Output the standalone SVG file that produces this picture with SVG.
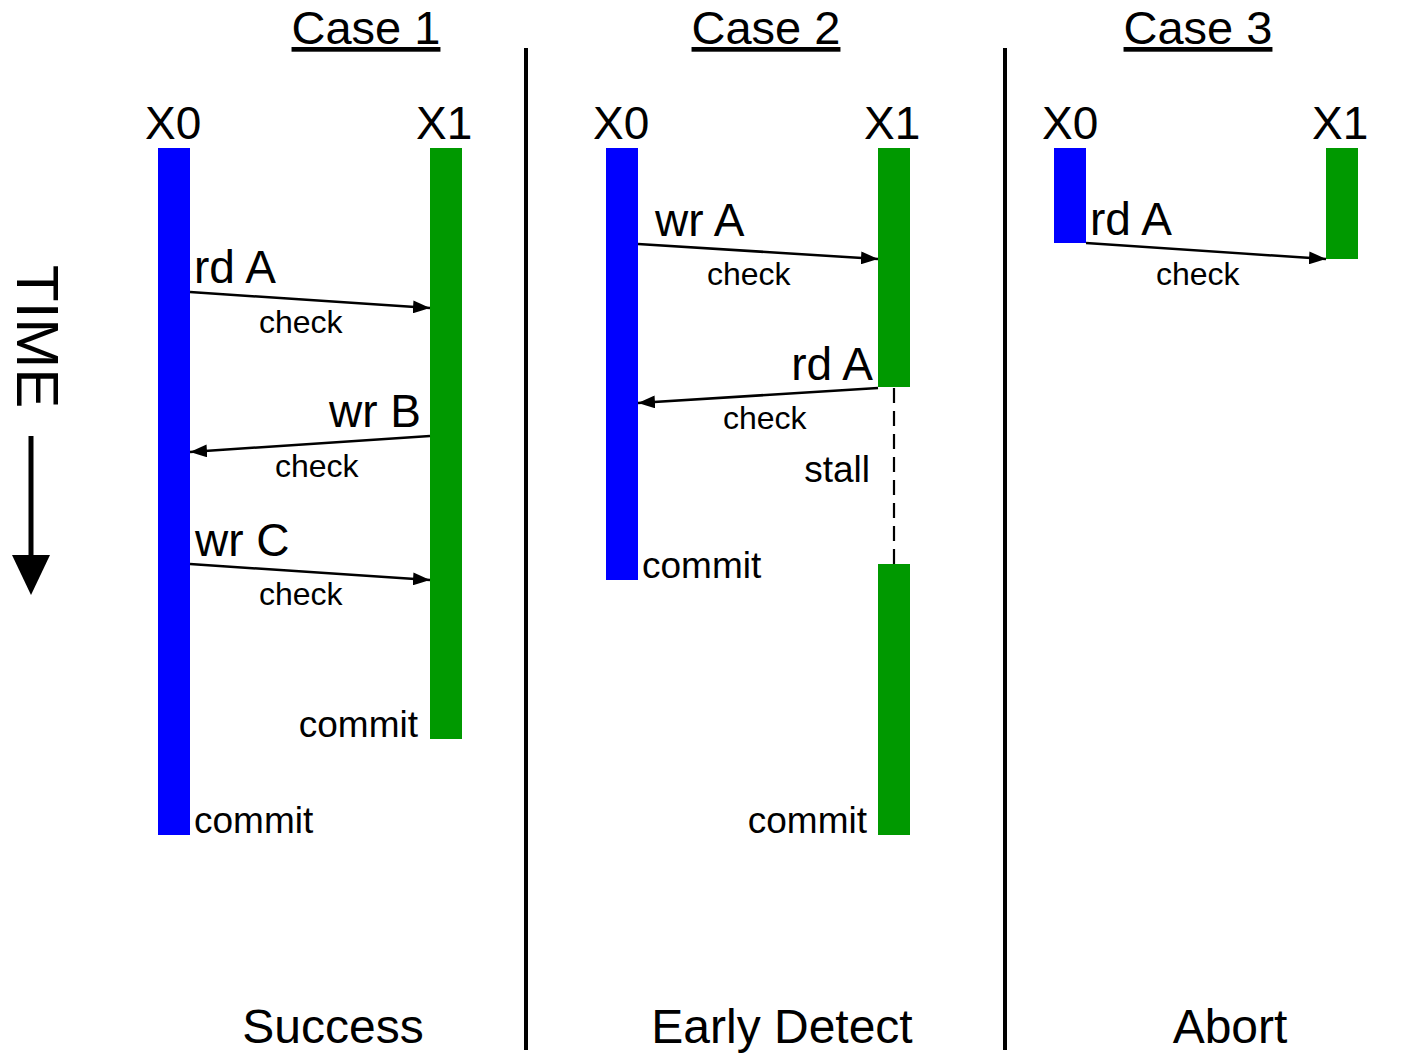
<svg xmlns="http://www.w3.org/2000/svg" width="1422" height="1054" viewBox="0 0 1422 1054">
<defs>
<style>
text{font-family:"Liberation Sans",Arial,sans-serif;fill:#000}
.title{font-size:47px;text-decoration:underline}
.lbl{font-size:46px}
.chk{font-size:32px}
.cm{font-size:37px}
.res{font-size:48px}
.x0{fill:#0000ff}
.x1{fill:#009900}
.conn{stroke:#000;stroke-width:2.5;fill:none;marker-end:url(#ah)}
.sep{stroke:#000;stroke-width:4}
</style>
<marker id="ah" markerUnits="userSpaceOnUse" markerWidth="17" markerHeight="13" refX="17" refY="6.5" orient="auto">
<path d="M0,0 L17,6.5 L0,13 Z" fill="#000"/>
</marker>
</defs>
<rect width="1422" height="1054" fill="#fff"/>

<g id="time-axis">
<text transform="translate(17,265) rotate(90)" style="font-size:60px">TIME</text>
<line x1="31" y1="436" x2="31" y2="560" stroke="#000" stroke-width="5"/>
<polygon points="12,555 50,555 31,595" fill="#000"/>
</g>

<g id="separators">
<line class="sep" x1="526" y1="48" x2="526" y2="1050"/>
<line class="sep" x1="1005" y1="48" x2="1005" y2="1050"/>
</g>

<g id="titles">
<text class="title" x="366" y="44" text-anchor="middle">Case 1</text>
<text class="title" x="766" y="44" text-anchor="middle">Case 2</text>
<text class="title" x="1198" y="44" text-anchor="middle">Case 3</text>
<text class="res" x="333" y="1043" text-anchor="middle">Success</text>
<text class="res" x="782" y="1043" text-anchor="middle">Early Detect</text>
<text class="res" x="1230" y="1043" text-anchor="middle">Abort</text>
</g>

<!-- Case 1 -->
<g id="c1-x0">
<text class="lbl" x="145" y="139">X0</text>
<rect class="x0" x="158" y="148" width="32" height="687"/>
<text class="cm" x="194" y="833">commit</text>
</g>
<g id="c1-x1">
<text class="lbl" x="416" y="139">X1</text>
<rect class="x1" x="430" y="148" width="32" height="591"/>
<text class="cm" x="418" y="737" text-anchor="end">commit</text>
</g>

<!-- Case 2 -->
<g id="c2-x0">
<text class="lbl" x="593" y="139">X0</text>
<rect class="x0" x="606" y="148" width="32" height="432"/>
<text class="cm" x="642" y="578">commit</text>
</g>
<g id="c2-x1">
<text class="lbl" x="864" y="139">X1</text>
<rect class="x1" x="878" y="148" width="32" height="239"/>
<rect class="x1" x="878" y="564" width="32" height="271"/>
<text class="cm" x="867" y="833" text-anchor="end">commit</text>
</g>

<!-- Case 3 -->
<g id="c3-x0">
<text class="lbl" x="1042" y="139">X0</text>
<rect class="x0" x="1054" y="148" width="32" height="95"/>
</g>
<g id="c3-x1">
<text class="lbl" x="1312" y="139">X1</text>
<rect class="x1" x="1326" y="148" width="32" height="111"/>
</g>

<g id="connectors">
<line class="conn" x1="190" y1="292" x2="430" y2="308"/>
<line class="conn" x1="430" y1="436" x2="190" y2="452"/>
<line class="conn" x1="190" y1="564" x2="430" y2="580"/>
<line class="conn" x1="638" y1="244" x2="878" y2="259"/>
<line class="conn" x1="878" y1="388" x2="638" y2="403"/>
<line x1="894" y1="388" x2="894" y2="564" stroke="#000" stroke-width="2.2" stroke-dasharray="15,8"/>
<line class="conn" x1="1086" y1="243" x2="1326" y2="259"/>
</g>

<g id="connector-labels">
<text class="lbl" x="194" y="283">rd A</text>
<text class="chk" x="259" y="333">check</text>
<text class="lbl" x="421" y="427" text-anchor="end">wr B</text>
<text class="chk" x="275" y="477">check</text>
<text class="lbl" x="195" y="556">wr C</text>
<text class="chk" x="259" y="605">check</text>

<text class="lbl" x="655" y="236">wr A</text>
<text class="chk" x="707" y="285">check</text>
<text class="lbl" x="873" y="380" text-anchor="end">rd A</text>
<text class="chk" x="723" y="429">check</text>
<text class="cm" x="870" y="482" text-anchor="end">stall</text>

<text class="lbl" x="1090" y="235">rd A</text>
<text class="chk" x="1156" y="285">check</text>
</g>
</svg>
